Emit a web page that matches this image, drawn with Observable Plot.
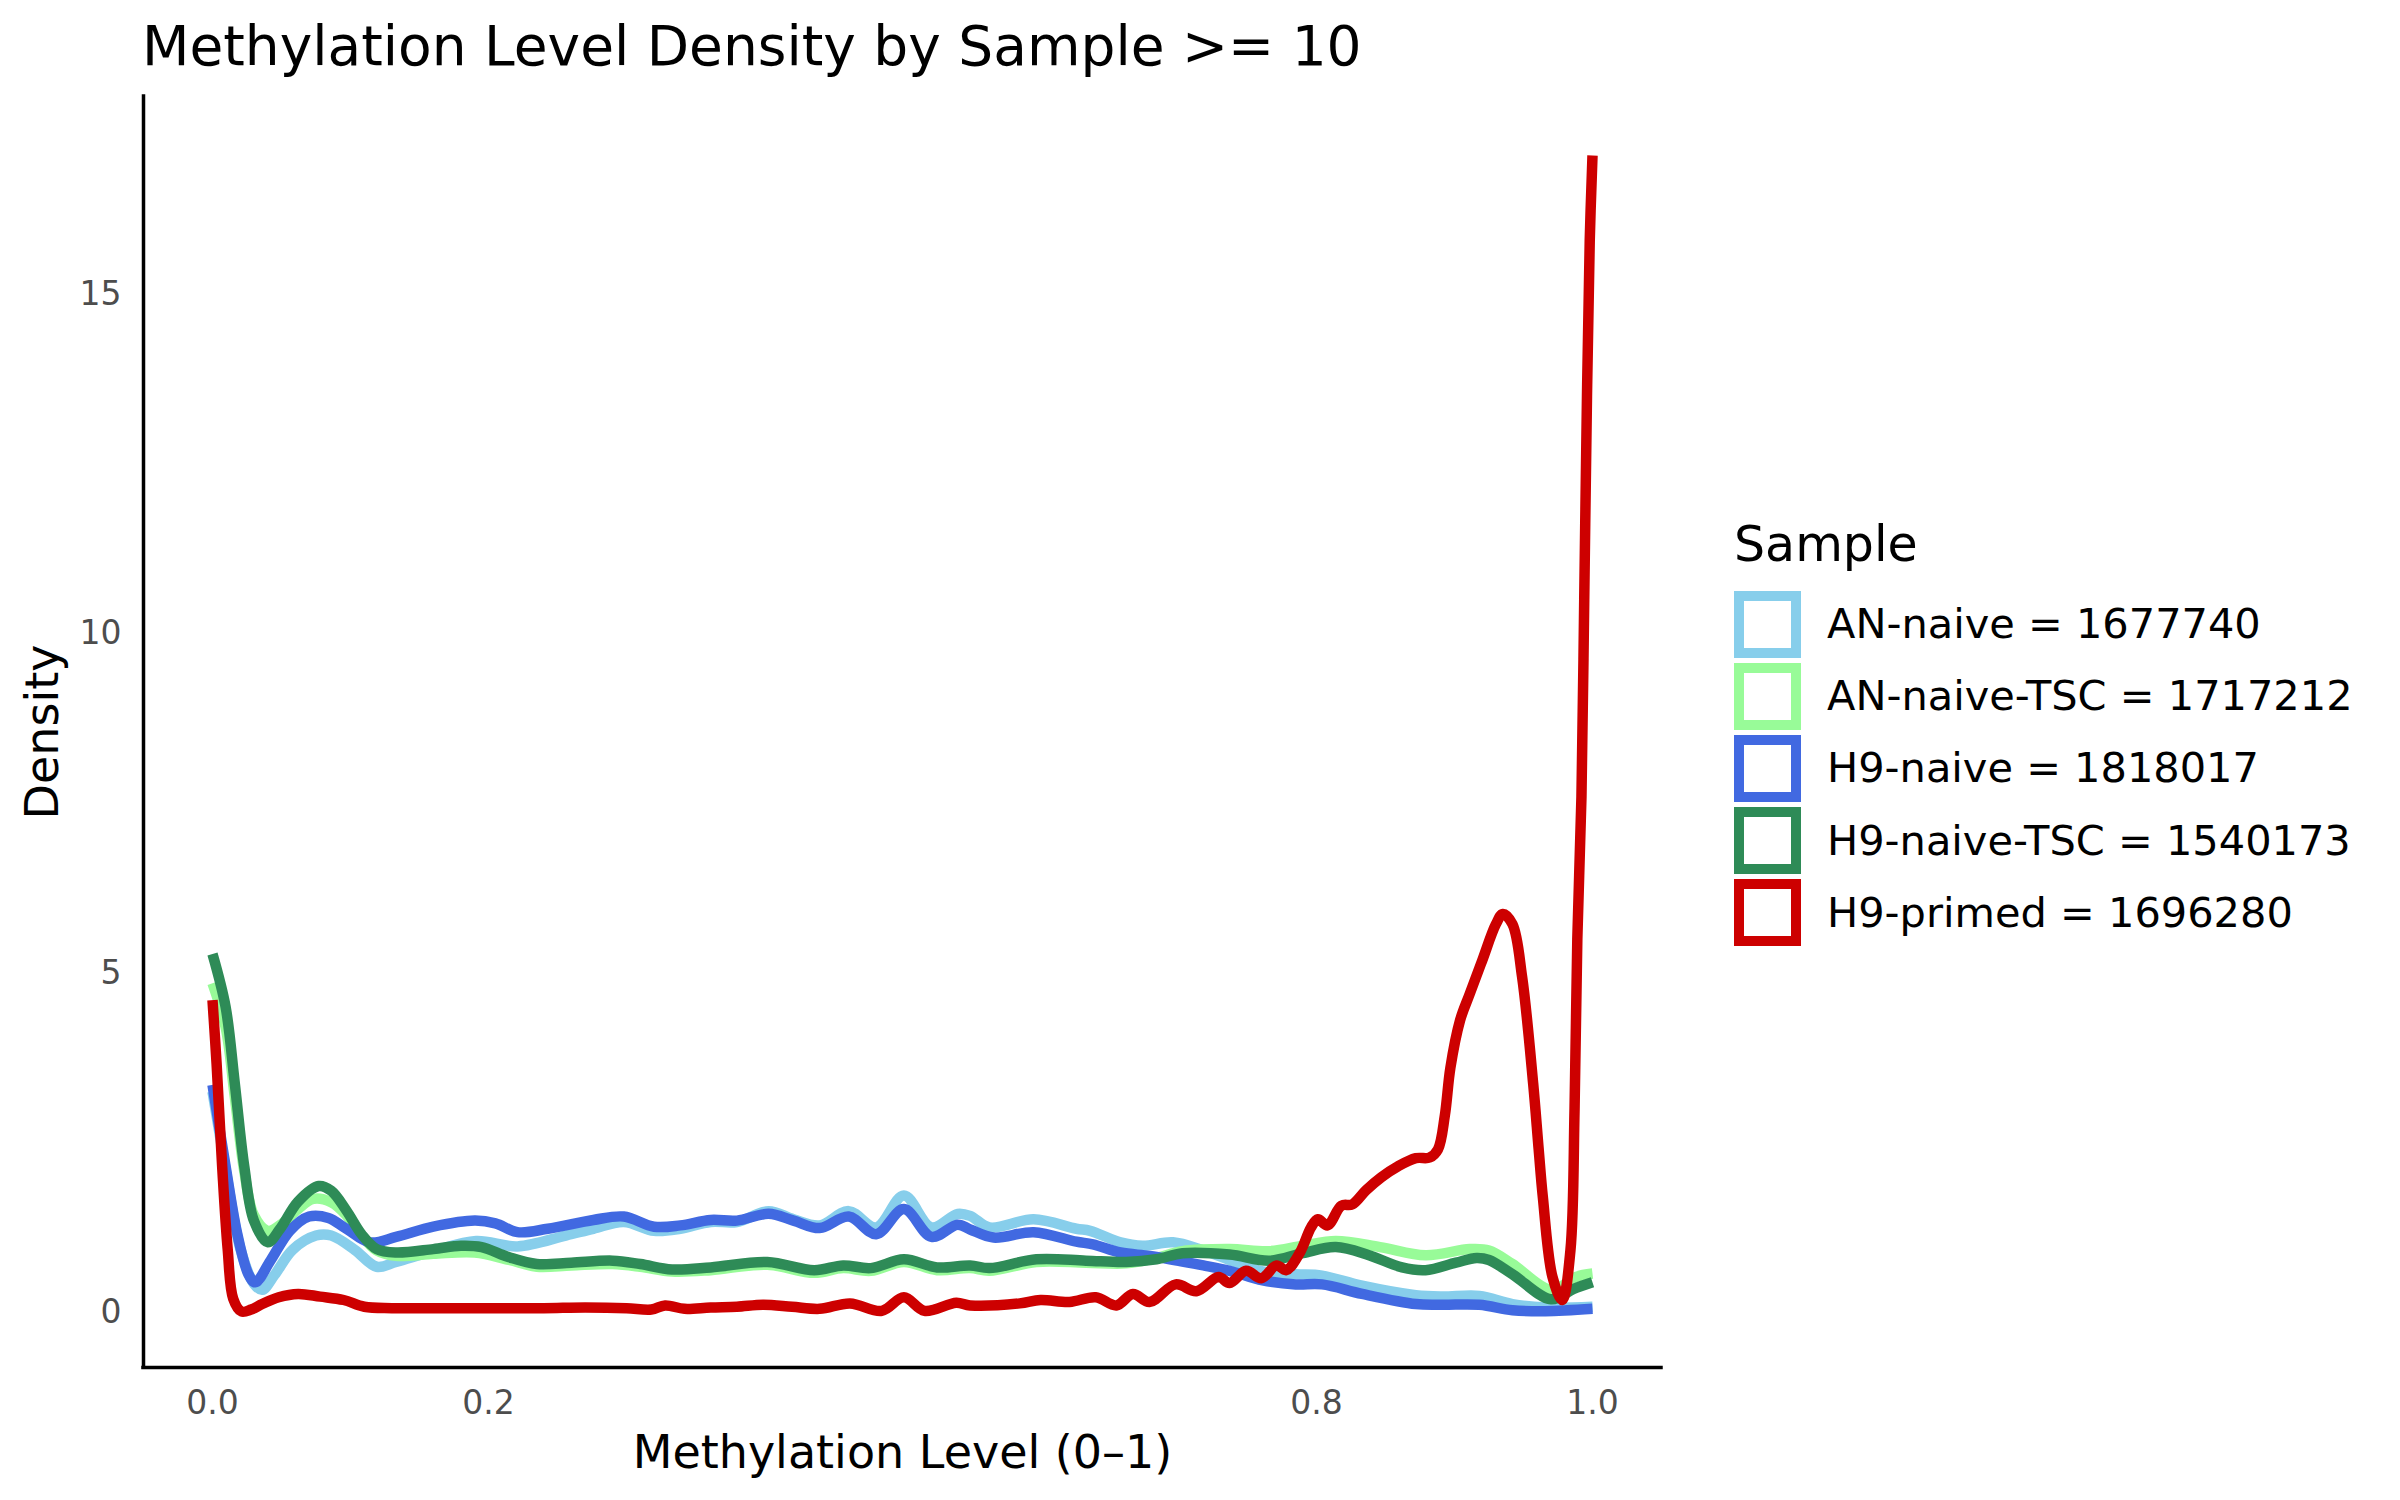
<!DOCTYPE html>
<html>
<head>
<meta charset="utf-8">
<script src="https://cdn.jsdelivr.net/npm/d3@7"></script>
<script src="https://cdn.jsdelivr.net/npm/@observablehq/plot@0.6"></script>
<style>
  body { margin: 0; background: #fff; }
  #wrap { position: relative; width: 2400px; height: 1500px; font-family: "DejaVu Sans", sans-serif; color: #000; overflow: hidden; }
  #title { position: absolute; left: 142px; top: 19px; font-size: 55px; line-height: 55px; white-space: nowrap; }
  #legtitle { position: absolute; left: 1734px; top: 520px; font-size: 49px; line-height: 49px; white-space: nowrap; }
  #legend { position: absolute; left: 1734px; top: 588px; }
  .row { display: flex; align-items: center; height: 72.2px; }
  .key { width: 67px; height: 67px; box-sizing: border-box; border-style: solid; border-width: 10px; background: #fff; }
  .lab { margin-left: 26px; font-size: 41.5px; line-height: 42px; white-space: nowrap; }
  #chart { position: absolute; left: 0; top: 0; }
</style>
</head>
<body>
<div id="wrap">
  <div id="chart"></div>
  <div id="title">Methylation Level Density by Sample &gt;= 10</div>
  <div id="legtitle"></div>
  <div id="legend"></div>
</div>
<script>
// ---- Data ----
const samples = ["AN-naive", "AN-naive-TSC", "H9-naive", "H9-naive-TSC", "H9-primed"];
const counts = [1677740, 1717212, 1818017, 1540173, 1696280];
const colors = ["#87CEEB", "#98FB98", "#4169E1", "#2E8B57", "#CD0000"];
const legendTitle = "Sample";
const xLabel = "Methylation Level (0–1)";
const yLabel = "Density";
const xTicks = [0, 0.2, 0.8, 1.0];
const yTicks = [0, 5, 10, 15];
const xDomain = [-0.05, 1.05];
const yDomain = [-0.815, 17.92];

// [methylation level, density]
const anNaive = [
  [0, 3.25], [0.01, 2.05], [0.02, 0.95], [0.03, 0.42], [0.036, 0.33], [0.045, 0.55],
  [0.058, 0.92], [0.075, 1.13], [0.086, 1.13], [0.103, 0.92], [0.119, 0.67], [0.133, 0.74],
  [0.16, 0.9], [0.191, 1.05], [0.221, 0.97], [0.256, 1.13], [0.276, 1.23], [0.298, 1.33],
  [0.32, 1.2], [0.339, 1.23], [0.361, 1.33], [0.38, 1.33], [0.403, 1.49], [0.421, 1.37],
  [0.44, 1.28], [0.461, 1.49], [0.481, 1.25], [0.501, 1.72], [0.521, 1.25], [0.54, 1.45],
  [0.549, 1.42], [0.563, 1.25], [0.595, 1.37], [0.626, 1.23], [0.636, 1.2], [0.658, 1.03],
  [0.674, 0.98], [0.696, 1.03], [0.718, 0.91], [0.737, 0.77], [0.761, 0.6], [0.785, 0.56],
  [0.804, 0.54], [0.833, 0.39], [0.872, 0.25], [0.891, 0.23], [0.918, 0.24], [0.942, 0.12],
  [0.966, 0.07], [1.0, 0.08]
];
const anNaiveTSC = [
  [0, 4.85], [0.0095, 4.2], [0.016, 3.2], [0.023, 2.08], [0.03, 1.43], [0.04, 1.2],
  [0.05, 1.3], [0.062, 1.52], [0.073, 1.67], [0.086, 1.62], [0.097, 1.43], [0.108, 1.13],
  [0.119, 0.91], [0.133, 0.83], [0.16, 0.86], [0.19, 0.88], [0.215, 0.77], [0.235, 0.67],
  [0.26, 0.69], [0.29, 0.71], [0.31, 0.67], [0.333, 0.6], [0.361, 0.62], [0.402, 0.7],
  [0.436, 0.58], [0.457, 0.65], [0.477, 0.61], [0.501, 0.74], [0.525, 0.62], [0.549, 0.65],
  [0.563, 0.61], [0.597, 0.74], [0.633, 0.73], [0.662, 0.72], [0.684, 0.8], [0.703, 0.9],
  [0.737, 0.93], [0.766, 0.9], [0.79, 0.98], [0.814, 1.05], [0.846, 0.96], [0.879, 0.84],
  [0.911, 0.93], [0.925, 0.91], [0.942, 0.71], [0.97, 0.33], [0.988, 0.52], [1.0, 0.57]
];
const h9Naive = [
  [0, 3.35], [0.0095, 2.15], [0.018, 1.15], [0.026, 0.56], [0.031, 0.44], [0.042, 0.76],
  [0.056, 1.2], [0.07, 1.41], [0.084, 1.39], [0.097, 1.23], [0.114, 1.03], [0.133, 1.11],
  [0.16, 1.26], [0.19, 1.35], [0.205, 1.31], [0.221, 1.18], [0.243, 1.23], [0.276, 1.36],
  [0.298, 1.41], [0.32, 1.26], [0.339, 1.28], [0.361, 1.36], [0.38, 1.35], [0.403, 1.45],
  [0.421, 1.35], [0.44, 1.24], [0.461, 1.41], [0.481, 1.15], [0.501, 1.52], [0.521, 1.11],
  [0.54, 1.29], [0.549, 1.22], [0.566, 1.1], [0.595, 1.18], [0.626, 1.04], [0.638, 1.0],
  [0.658, 0.88], [0.679, 0.83], [0.699, 0.76], [0.718, 0.69], [0.737, 0.61], [0.761, 0.47],
  [0.785, 0.41], [0.804, 0.41], [0.833, 0.27], [0.872, 0.12], [0.891, 0.11], [0.918, 0.11],
  [0.942, 0.03], [0.966, 0.015], [1.0, 0.05]
];
const h9NaiveTSC = [
  [0, 5.28], [0.0095, 4.5], [0.016, 3.4], [0.023, 2.15], [0.03, 1.35], [0.04, 1.03],
  [0.049, 1.23], [0.062, 1.63], [0.077, 1.86], [0.086, 1.79], [0.097, 1.5], [0.108, 1.15],
  [0.119, 0.93], [0.133, 0.88], [0.16, 0.93], [0.18, 0.98], [0.195, 0.96], [0.215, 0.81],
  [0.235, 0.71], [0.26, 0.73], [0.29, 0.76], [0.31, 0.71], [0.333, 0.63], [0.361, 0.66],
  [0.402, 0.74], [0.436, 0.62], [0.457, 0.69], [0.477, 0.65], [0.501, 0.78], [0.525, 0.66],
  [0.549, 0.69], [0.563, 0.65], [0.597, 0.78], [0.633, 0.76], [0.662, 0.74], [0.684, 0.78],
  [0.703, 0.87], [0.737, 0.85], [0.766, 0.76], [0.79, 0.87], [0.814, 0.96], [0.838, 0.84],
  [0.862, 0.66], [0.879, 0.62], [0.901, 0.73], [0.916, 0.8], [0.925, 0.77], [0.942, 0.56],
  [0.97, 0.19], [0.986, 0.34], [1.0, 0.44]
];
const h9Primed = [
  [0, 4.6], [0.003, 3.65], [0.007, 2.15], [0.011, 0.93], [0.015, 0.2], [0.021, 0.01],
  [0.028, 0.04], [0.036, 0.12], [0.048, 0.22], [0.062, 0.27], [0.078, 0.23], [0.095, 0.18],
  [0.11, 0.08], [0.13, 0.06], [0.16, 0.06], [0.2, 0.06], [0.24, 0.06], [0.27, 0.07],
  [0.3, 0.06], [0.318, 0.04], [0.328, 0.1], [0.342, 0.05], [0.361, 0.07], [0.38, 0.08],
  [0.399, 0.11], [0.42, 0.08], [0.44, 0.05], [0.462, 0.13], [0.485, 0.02], [0.501, 0.22],
  [0.516, 0.02], [0.539, 0.14], [0.549, 0.1], [0.585, 0.13], [0.6, 0.18], [0.621, 0.15],
  [0.64, 0.22], [0.655, 0.1], [0.667, 0.27], [0.679, 0.15], [0.698, 0.41], [0.713, 0.31],
  [0.729, 0.52], [0.737, 0.43], [0.749, 0.61], [0.76, 0.5], [0.771, 0.69], [0.778, 0.62],
  [0.788, 0.88], [0.796, 1.25], [0.801, 1.37], [0.808, 1.28], [0.818, 1.57], [0.826, 1.59],
  [0.836, 1.8], [0.847, 1.99], [0.859, 2.15], [0.872, 2.27], [0.882, 2.28], [0.888, 2.4],
  [0.893, 2.9], [0.897, 3.6], [0.904, 4.3], [0.911, 4.69], [0.92, 5.18], [0.93, 5.72],
  [0.935, 5.87], [0.942, 5.72], [0.949, 4.94], [0.957, 3.37], [0.961, 2.4], [0.964, 1.7],
  [0.971, 0.52], [0.978, 0.18], [0.984, 0.91], [0.987, 3.0], [0.989, 5.5], [0.992, 7.6],
  [0.994, 10.5], [0.996, 13.5], [0.998, 15.8], [1.0, 17.05]
];
const seriesPoints = [anNaive, anNaiveTSC, h9Naive, h9NaiveTSC, h9Primed];

// ---- Build table ----
const rows = samples.flatMap((s, i) => seriesPoints[i].map(([x, y]) => ({ sample: s, x, y })));

const chart = Plot.plot({
  width: 2400,
  height: 1500,
  marginLeft: 143,
  marginRight: 739,
  marginTop: 96,
  marginBottom: 133,
  style: { fontFamily: "DejaVu Sans", background: "transparent", overflow: "visible" },
  x: { domain: xDomain },
  y: { domain: yDomain },
  color: { domain: samples, range: colors },
  marks: [
    Plot.axisX(xTicks, { tickSize: 0, tickPadding: 23, fontSize: 33, fill: "#4d4d4d", tickFormat: d => d.toFixed(1), label: null }),
    Plot.axisY(yTicks, { tickSize: 0, tickPadding: 22, fontSize: 33, fill: "#4d4d4d", tickFormat: d => String(d), label: null }),
    Plot.line(rows, { x: "x", y: "y", z: "sample", stroke: "sample", strokeWidth: 10.5, curve: "catmull-rom", strokeLinecap: "butt", strokeLinejoin: "round" }),
    Plot.ruleX([xDomain[0]], { stroke: "black", strokeWidth: 3.5, strokeLinecap: "square" }),
    Plot.ruleY([yDomain[0]], { stroke: "black", strokeWidth: 3.5, strokeLinecap: "square" }),
    Plot.text([xLabel], { frameAnchor: "bottom", dy: 100, textAnchor: "middle", lineAnchor: "bottom", fontSize: 46, fill: "black" }),
    Plot.text([yLabel], { frameAnchor: "left", dx: -100, textAnchor: "middle", lineAnchor: "middle", rotate: -90, fontSize: 46, fill: "black" })
  ]
});
document.getElementById("chart").appendChild(chart);

// ---- Legend ----
document.getElementById("legtitle").textContent = legendTitle;
const leg = document.getElementById("legend");
samples.forEach((s, i) => {
  const row = document.createElement("div");
  row.className = "row";
  const key = document.createElement("div");
  key.className = "key";
  key.style.borderColor = colors[i];
  const lab = document.createElement("div");
  lab.className = "lab";
  lab.textContent = `${s} = ${counts[i]}`;
  row.appendChild(key);
  row.appendChild(lab);
  leg.appendChild(row);
});
</script>
</body>
</html>
